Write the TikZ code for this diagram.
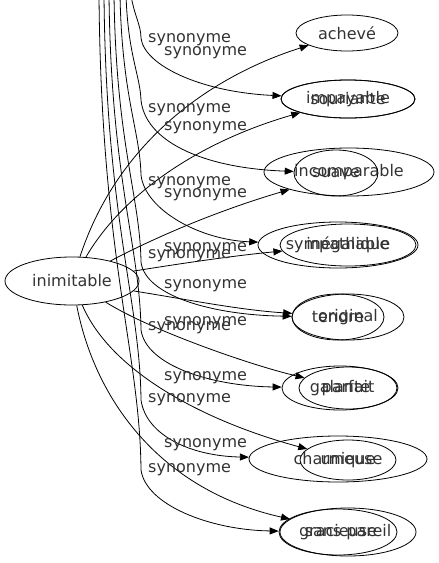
\documentclass[tikz,border=0pt]{standalone}
\usepackage{fontspec}
\setmainfont{DejaVu Sans}
\usetikzlibrary{shapes.geometric,arrows.meta}
\tikzset{
	ell/.style 2 args={ellipse, draw, line width=0.8pt, minimum width=#1, minimum height=#2, inner sep=0pt, text=black!80, font=\fontsize{16}{19}\selectfont},
	syn/.style={-{Triangle[length=9pt,width=7pt]}, line width=0.8pt},
	lbl/.style={anchor=west, inner sep=0pt, text=black!80, font=\fontsize{16}{19}\selectfont}
}

\begin{document}
\begin{tikzpicture}[x=1pt, y=-1pt]
					\useasboundingbox (0,0) rectangle (439,563);

					\node[ell={134pt}{48pt}] (inim) at (72,281) {inimitable};

					\node[ell={102pt}{36pt}] (acheve) at (347,33) {achevé};
					\node[ell={134pt}{38pt}] (impay) at (348,99) {impayable};
					\node[ell={134pt}{38pt}] (souri) at (348,99) {souriante};
					\node[ell={170pt}{48pt}] (incomp) at (349,172) {incomparable};
					\node[ell={84pt}{46pt}] (suave) at (336,173) {suave};
					\node[ell={160pt}{46pt}] (sympa) at (338,245) {sympathique};
					\node[ell={136pt}{42pt}] (inegal) at (348,245) {inégalable};
					\node[ell={112pt}{46pt}] (orig) at (348,317) {original};
					\node[ell={92pt}{46pt}] (tendre) at (338,317) {tendre};
					\node[ell={116pt}{44pt}] (galante) at (340,388) {galante};
					\node[ell={98pt}{42pt}] (parfait) at (348,388) {parfait};
					\node[ell={178pt}{46pt}] (charm) at (338,459) {charmeuse};
					\node[ell={96pt}{40pt}] (unique) at (348,460) {unique};
					\node[ell={136pt}{48pt}] (pareil) at (348,532) {sans pareil};
					\node[ell={118pt}{46pt}] (gracieuse) at (338,532) {gracieuse};

					\coordinate (t1) at (131,-5);
					\coordinate (t2) at (126,-5);
					\coordinate (t3) at (120,-5);
					\coordinate (t4) at (114,-5);
					\coordinate (t5) at (109,-5);
					\coordinate (t6) at (104,-5);
					\coordinate (t7) at (99,-5);

					\draw[syn] (inim) .. controls (115,150) and (200,80) .. (acheve);
					\draw[syn] (inim) .. controls (125,190) and (205,140) .. (impay);
					\draw[syn] (inim) .. controls (160,235) and (220,210) .. (incomp);
					\draw[syn] (inim) .. controls (190,262) and (240,255) .. (inegal);
					\draw[syn] (inim) .. controls (190,300) and (240,310) .. (orig);
					\draw[syn] (inim) .. controls (150,330) and (250,365) .. (parfait);
					\draw[syn] (inim) .. controls (110,370) and (200,420) .. (unique);
					\draw[syn] (inim) .. controls (95,400) and (160,490) .. (pareil);

					\draw[syn] (t1) .. controls (134,15) and (141,25) .. (141,38) .. controls (144,65) and (200,92) .. (souri);
					\draw[syn] (t2) .. controls (128,55) and (140,75) .. (141,100) .. controls (145,140) and (200,168) .. (suave);
					\draw[syn] (t3) .. controls (122,97) and (140,131) .. (141,175) .. controls (145,210) and (200,240) .. (sympa);
					\draw[syn] (t4) .. controls (116,144) and (140,196) .. (141,262) .. controls (145,295) and (210,315) .. (tendre);
					\draw[syn] (t5) .. controls (111,180) and (140,247) .. (141,330) .. controls (146,365) and (210,386) .. (galante);
					\draw[syn] (t6) .. controls (106,220) and (140,300) .. (141,400) .. controls (146,435) and (190,456) .. (charm);
					\draw[syn] (t7) .. controls (101,258) and (140,352) .. (141,470) .. controls (146,505) and (210,530) .. (gracieuse);

					\node[lbl] (lb1) at (148,40) {synonyme};
					\node[lbl] (lb2) at (148,110) {synonyme};
					\node[lbl] (lb3) at (148,183) {synonyme};
					\node[lbl] (lb4) at (148,256) {synonyme};
					\node[lbl] (lb5) at (148,328) {synonyme};
					\node[lbl] (lb6) at (148,400) {synonyme};
					\node[lbl] (lb7) at (148,470) {synonyme};

					\node[lbl] (la1) at (164,53) {synonyme};
					\node[lbl] (la2) at (164,128) {synonyme};
					\node[lbl] (la3) at (164,195) {synonyme};
					\node[lbl] (la4) at (164,249) {synonyme};
					\node[lbl] (la5) at (164,286) {synonyme};
					\node[lbl] (la6) at (164,323) {synonyme};
					\node[lbl] (la7) at (164,378) {synonyme};
					\node[lbl] (la8) at (164,445) {synonyme};

				\end{tikzpicture}
\end{document}
